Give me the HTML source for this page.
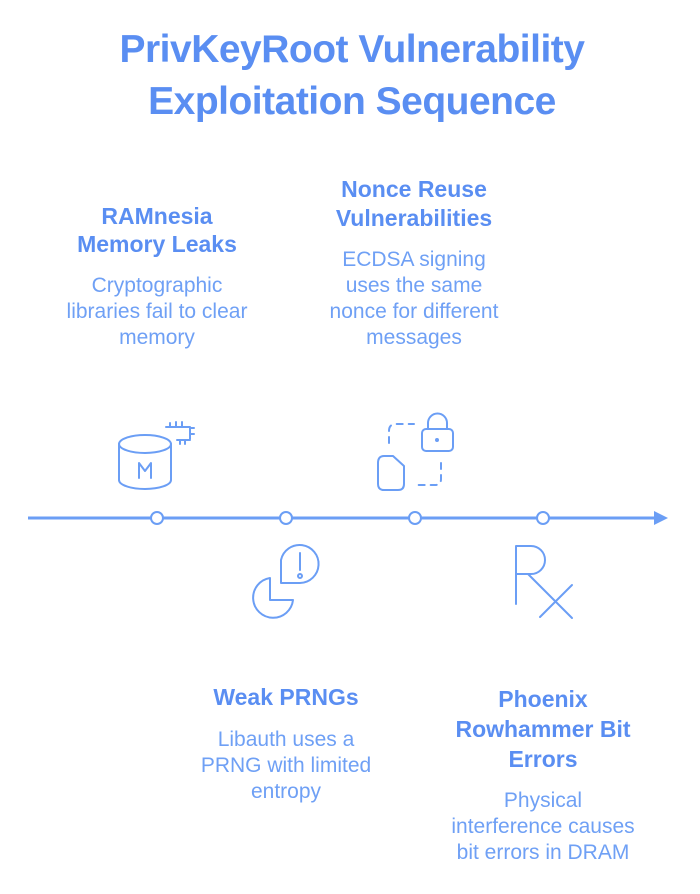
<!DOCTYPE html>
<html><head><meta charset="utf-8"><style>
html,body{margin:0;padding:0;background:#fff;}
svg{display:block;}
text{font-family:"Liberation Sans",Arial,sans-serif;text-anchor:middle;}
.t{font-size:39px;font-weight:bold;fill:#5a8ef2;letter-spacing:-0.5px;}
.h{font-size:23px;font-weight:bold;fill:#5a8ef2;}
.d{font-size:21px;fill:#6fa0f5;}
.ic{fill:none;stroke:#6b9ef5;stroke-width:2;stroke-linecap:round;stroke-linejoin:round;}
</style></head><body>
<svg width="700" height="894" viewBox="0 0 700 894" xmlns="http://www.w3.org/2000/svg">
<text class="t" x="352" y="62">PrivKeyRoot Vulnerability</text>
<text class="t" x="352" y="114">Exploitation Sequence</text>

<text class="h" x="157" y="224">RAMnesia</text>
<text class="h" x="157" y="252">Memory Leaks</text>
<text class="d" x="157" y="292">Cryptographic</text>
<text class="d" x="157" y="318">libraries fail to clear</text>
<text class="d" x="157" y="344">memory</text>

<text class="h" x="414" y="197">Nonce Reuse</text>
<text class="h" x="414" y="226">Vulnerabilities</text>
<text class="d" x="414" y="266">ECDSA signing</text>
<text class="d" x="414" y="292">uses the same</text>
<text class="d" x="414" y="318">nonce for different</text>
<text class="d" x="414" y="344">messages</text>

<text class="h" x="286" y="705">Weak PRNGs</text>
<text class="d" x="286" y="746">Libauth uses a</text>
<text class="d" x="286" y="772">PRNG with limited</text>
<text class="d" x="286" y="798">entropy</text>

<text class="h" x="543" y="707">Phoenix</text>
<text class="h" x="543" y="737">Rowhammer Bit</text>
<text class="h" x="543" y="767">Errors</text>
<text class="d" x="543" y="807">Physical</text>
<text class="d" x="543" y="833">interference causes</text>
<text class="d" x="543" y="859">bit errors in DRAM</text>

<line x1="28" y1="518" x2="656" y2="518" stroke="#6b9ef5" stroke-width="3"/>
<polygon points="654,511 668,518 654,525" fill="#6b9ef5"/>
<g fill="#fff" stroke="#6b9ef5" stroke-width="2">
<circle cx="157" cy="518" r="6"/><circle cx="286" cy="518" r="6"/>
<circle cx="415" cy="518" r="6"/><circle cx="543" cy="518" r="6"/>
</g>

<g class="ic">
<ellipse cx="145" cy="444" rx="26" ry="9"/>
<path d="M119 444 V480 A26 9 0 0 0 171 480 V444"/>
<path d="M139 478 V463 L145 471 L151 463 V478"/>
<path d="M166 427 H190 V439 M177 440 H190 M170 423 V427 M176 422 V427 M182 422 V427 M190 428 H194 M190 434 H194 M180 440 V444 M185 440 V444"/>
</g>
<g class="ic">
<path d="M389 443 V431 Q389 424 396 424 H414" stroke-dasharray="6 6"/>
<path d="M441 463 V479 Q441 485 435 485 H416" stroke-dasharray="6 6"/>
<rect x="422" y="429" width="31" height="22" rx="4"/>
<path d="M428 429 V423 A9 9 0 0 1 447 423 V429"/>
<circle cx="437" cy="440" r="1" fill="#6b9ef5"/>
<path d="M378 463 Q378 456 384 456 H393 L404 466 V484 Q404 490 398 490 H384 Q378 490 378 484 Z"/>
</g>
<g class="ic">
<path d="M270 578 A20 20 0 1 0 293 600 H270 Z"/>
<path d="M281 583 V560 A19 19 0 1 1 300 583 Z"/>
<line x1="300" y1="553" x2="300" y2="570"/>
<circle cx="300" cy="576" r="2"/>
</g>
<g class="ic">
<path d="M516 604 V546 H531 A14 14 0 0 1 531 574 H516 M528 574 L572 618 M572 585 L540 617"/>
</g>
</svg>
</body></html>
